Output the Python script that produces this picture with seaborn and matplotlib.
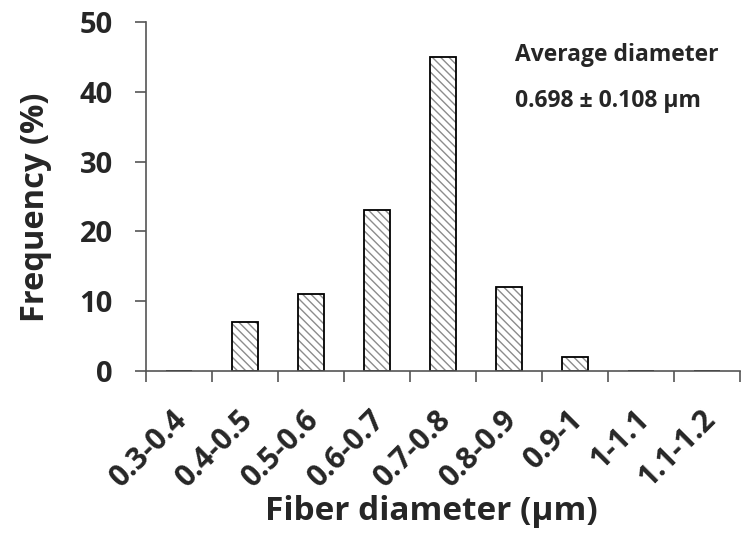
import matplotlib
matplotlib.use("Agg")
import matplotlib.pyplot as plt
import matplotlib.transforms as mtransforms
import seaborn as sns
import numpy as np
import pandas as pd

bins = ['0.3-0.4', '0.4-0.5', '0.5-0.6', '0.6-0.7', '0.7-0.8',
        '0.8-0.9', '0.9-1', '1-1.1', '1.1-1.2']
freq = [0, 7, 11, 23, 45, 12, 2, 0, 0]

df = pd.DataFrame({'bin': bins, 'freq': freq})

sns.set_style("white")
plt.rcParams['font.family'] = ['Open Sans', 'DejaVu Sans']
plt.rcParams['font.weight'] = 'bold'
plt.rcParams['hatch.linewidth'] = 1.0

fig = plt.figure(figsize=(7.49, 5.44), dpi=100)
ax = fig.add_axes([0.195, 0.318, 0.793, 0.6415])

# hatched fill first, then black outline on top
sns.barplot(data=df, x='bin', y='freq', ax=ax, width=0.4, color='white',
            edgecolor='#8c8c8c', linewidth=0, hatch='\\\\\\\\')
sns.barplot(data=df, x='bin', y='freq', ax=ax, width=0.4, facecolor='none',
            edgecolor='black', linewidth=1.3)

ax.set_xlim(-0.5, len(bins) - 0.5)
ax.set_ylim(0, 50)
ax.set_yticks(range(0, 51, 10))
ax.set_yticklabels([str(v) for v in range(0, 51, 10)], fontsize=21, fontweight='bold')

# ticks on category borders, labels in the middle
ax.set_xticks(np.arange(len(bins) + 1) - 0.5)
ax.set_xticklabels([])
ax.set_xticks(np.arange(len(bins)), minor=True)
ax.set_xticklabels(bins, minor=True, rotation=45, ha='right',
                   rotation_mode='anchor', fontsize=21.5, fontweight='bold')
ax.tick_params(axis='x', which='minor', length=0, pad=24)
ax.tick_params(axis='x', which='major', length=8, width=1.2, color='#555555', direction='out')
ax.tick_params(axis='y', length=8, width=1.2, color='#555555', direction='out', pad=16)
ax.tick_params(axis='both', bottom=True, left=True)

# nudge the slanted labels a bit to the left
shift = mtransforms.ScaledTranslation(-7 / 100, 0, fig.dpi_scale_trans)
for lbl in ax.get_xticklabels(minor=True):
    lbl.set_transform(lbl.get_transform() + shift)

for s in ['top', 'right']:
    ax.spines[s].set_visible(False)
for s in ['left', 'bottom']:
    ax.spines[s].set_color('#555555')
    ax.spines[s].set_linewidth(1.2)

ax.set_xlabel('Fiber diameter (μm)', fontsize=24, fontweight='bold')
ax.xaxis.set_label_coords(0.48, -0.355)
ax.set_ylabel('Frequency (%)', fontsize=23.5, fontweight='bold')
ax.yaxis.set_label_coords(-0.158, 0.47)

ax.text(0.621, 0.905, 'Average diameter', transform=ax.transAxes,
        ha='left', va='center', fontsize=16.5, fontweight='bold')
ax.text(0.621, 0.774, '0.698 ± 0.108 μm', transform=ax.transAxes,
        ha='left', va='center', fontsize=16.5, fontweight='bold')

fig.savefig('out.png', dpi=100)
